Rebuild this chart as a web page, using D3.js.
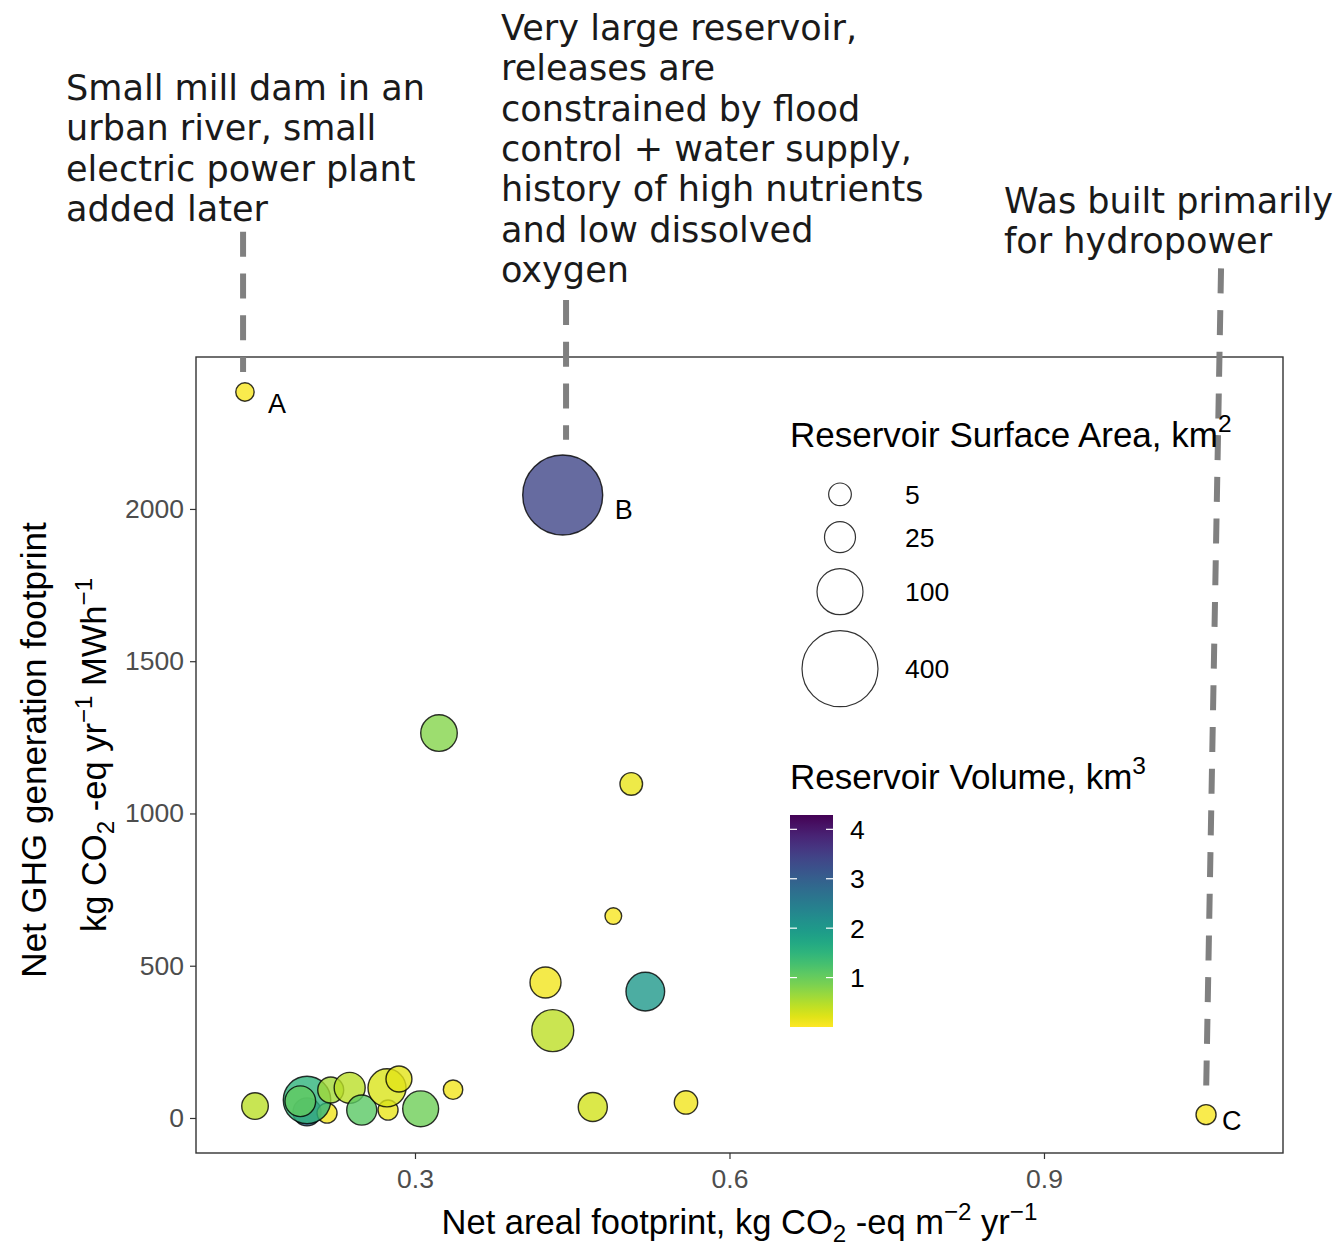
<!DOCTYPE html>
<html>
<head>
<meta charset="utf-8">
<script src="https://cdn.jsdelivr.net/npm/d3@7"></script>
<style>
    body { margin: 0; background: #fff; }
    svg { display: block; }
    .axis-title, .tick-label, .legend-text, .point-label { font-family: 'Liberation Sans', Arial, sans-serif; }
    .note { font-family: 'Century Gothic', 'URW Gothic', 'DejaVu Sans', sans-serif; fill: #1a1a1a; }
</style>
</head>
<body>
<svg id="chart" width="1340" height="1249"></svg>
<script>
/**
 * Data: one entry per reservoir, in drawing order.
 */
const arealFootprint = [0.197, 0.2161, 0.197, 0.1906, 0.1474, 0.2196, 0.2377, 0.2492, 0.2743, 0.2733, 0.2847,
    0.3054, 0.3363, 0.3229, 0.4245, 0.4314, 0.5197, 0.4696, 0.5585, 0.5063, 0.4892, 0.1378, 0.4409, 1.0546];
const ghgFootprint = [20, 16, 59, 55, 39, 92, 99, 26, 26, 99, 128,
    30, 93, 1264, 445, 287, 415, 36, 51, 1097, 663, 2384, 2046, 11];
const surfaceArea = [16, 1.8, 110, 24, 12.5, 11, 25, 22, 1.8, 54, 11,
    44, 1.3, 47, 25, 75, 57, 19, 6, 4.8, 0.05, 0.64, 455, 1.8];
const reservoirVolume = [2.9, 0.1, 1.5, 1.05, 0.45, 0.6, 0.45, 1.1, 0.15, 0.25, 0.2,
    0.95, 0.1, 0.8, 0.1, 0.43, 2.0, 0.3, 0.1, 0.15, 0.05, 0.05, 3.4, 0.05];
const pointLabels = ['', '', '', '', '', '', '', '', '', '', '',
    '', '', '', '', '', '', '', '', '', '', 'A', 'B', 'C'];

const xTicks = [0.3, 0.6, 0.9];
const yTicks = [0, 500, 1000, 1500, 2000];
const sizeBreaks = [5, 25, 100, 400];
const colorBreaks = [1, 2, 3, 4];
const volumeRange = [0, 4.29];

// Annotation leaders, in data units (start above, end near the point)
const leaderX1 = [0.136, 0.4441, 1.0689];
const leaderY1 = [2910, 2686, 2790];
const leaderX2 = [0.136, 0.4441, 1.0546];
const leaderY2 = [2450, 2227, 75];

const noteLines = [
    ['Small mill dam in an', 'urban river, small', 'electric power plant', 'added later'],
    ['Very large reservoir,', 'releases are', 'constrained by flood', 'control + water supply,',
        'history of high nutrients', 'and low dissolved', 'oxygen'],
    ['Was built primarily', 'for hydropower']
];

/**
 * Visual configs.
 */
const panel = { left: 196, right: 1283, top: 357, bottom: 1153 },
    baseSize = 35,
    axisTitleSize = 34.5,
    tickSize = 26.5,
    tickLen = 6,
    notePos = [{ x: 66, y: 100 }, { x: 501, y: 40 }, { x: 1004, y: 213 }],
    noteStep = 40.3,
    labelNudge = { A: [23, 12], B: [52, 15], C: [16, 6] };

const svg = d3.select('#chart');

/**
 * Scales.
 */
const xScale = d3.scaleLinear().domain([0.0911, 1.128]).range([panel.left, panel.right]),
    yScale = d3.scaleLinear().domain([-115, 2499]).range([panel.bottom, panel.top]),
    rScale = d3.scalePow().exponent(0.5).domain([0, 400]).range([8, 38]),
    colorScale = d3.scaleSequential(d3.interpolateViridis).domain([volumeRange[1], volumeRange[0]]);

const points = arealFootprint.map((x, i) => ({
    x: x, y: ghgFootprint[i], area: surfaceArea[i], volume: reservoirVolume[i], label: pointLabels[i]
}));

/**
 * Panel border and axes.
 */
svg.append('rect')
    .attr('x', panel.left).attr('y', panel.top)
    .attr('width', panel.right - panel.left).attr('height', panel.bottom - panel.top)
    .attr('fill', 'none').attr('stroke', '#333').attr('stroke-width', 1.4);

const xAxis = svg.append('g')
    .attr('transform', 'translate(0,' + panel.bottom + ')')
    .call(d3.axisBottom(xScale).tickValues(xTicks).tickFormat(d3.format('.1f'))
        .tickSize(tickLen).tickPadding(10));
const yAxis = svg.append('g')
    .attr('transform', 'translate(' + panel.left + ',0)')
    .call(d3.axisLeft(yScale).tickValues(yTicks).tickFormat(d3.format('d'))
        .tickSize(tickLen).tickPadding(6));

[xAxis, yAxis].forEach(axis => {
    axis.select('.domain').remove();
    axis.selectAll('.tick line').attr('stroke', '#333').attr('stroke-width', 1.2);
    axis.selectAll('.tick text')
        .attr('class', 'tick-label')
        .attr('fill', '#4d4d4d')
        .style('font-size', tickSize + 'px')
        .style('font-family', "'Liberation Sans', Arial, sans-serif");
});

/**
 * Axis titles, with sub/superscripts.
 */
function richText(sel, parts, size) {
    parts.forEach(p => {
        const t = sel.append('tspan').text(p.t);
        if (p.sub) t.attr('dy', size * 0.22).style('font-size', size * 0.7 + 'px');
        else if (p.sup) t.attr('dy', -size * 0.42).style('font-size', size * 0.7 + 'px');
        if (p.back) t.attr('dy', p.back * size);
    });
}

const xTitle = svg.append('text')
    .attr('class', 'axis-title')
    .attr('x', (panel.left + panel.right) / 2).attr('y', 1234)
    .attr('text-anchor', 'middle').style('font-size', axisTitleSize + 'px');
richText(xTitle, [
    { t: 'Net areal footprint, kg CO' }, { t: '2', sub: true }, { t: ' -eq m', back: -0.22 },
    { t: '\u22122', sup: true }, { t: ' yr', back: 0.42 }, { t: '\u22121', sup: true }
], axisTitleSize);

svg.append('text')
    .attr('class', 'axis-title')
    .attr('transform', 'translate(46,' + 750 + ') rotate(-90)')
    .attr('text-anchor', 'middle').style('font-size', baseSize + 'px')
    .text('Net GHG generation footprint');

const yTitle2 = svg.append('text')
    .attr('class', 'axis-title')
    .attr('transform', 'translate(106,' + 755 + ') rotate(-90)')
    .attr('text-anchor', 'middle').style('font-size', axisTitleSize + 'px');
richText(yTitle2, [
    { t: 'kg CO' }, { t: '2', sub: true }, { t: ' -eq yr', back: -0.22 }, { t: '\u22121', sup: true },
    { t: ' MWh', back: 0.42 }, { t: '\u22121', sup: true }
], axisTitleSize);

/**
 * Annotation leaders and notes.
 */
svg.append('g').selectAll('line')
    .data(leaderX1)
    .join('line')
    .attr('x1', (d, i) => xScale(d)).attr('y1', (d, i) => yScale(leaderY1[i]))
    .attr('x2', (d, i) => xScale(leaderX2[i])).attr('y2', (d, i) => yScale(leaderY2[i]))
    .attr('stroke', '#808080').attr('stroke-width', 6)
    .attr('stroke-dasharray', '25,16.7');

const noteGroups = svg.append('g').selectAll('text')
    .data(noteLines)
    .join('text')
    .attr('class', 'note')
    .style('font-size', '100px');

// Fit the note font to the measured width of the widest line
const probe = noteGroups.filter((d, i) => i === 1).append('tspan').text(noteLines[1][3]);
const noteSize = 100 * 411 / probe.node().getComputedTextLength();
probe.remove();

noteGroups.style('font-size', noteSize + 'px')
    .each(function(lines, i) {
        d3.select(this).selectAll('tspan')
            .data(lines)
            .join('tspan')
            .attr('x', notePos[i].x)
            .attr('y', (d, j) => notePos[i].y + j * noteStep)
            .text(d => d);
    });

/**
 * Points.
 */
svg.append('g').selectAll('circle')
    .data(points)
    .join('circle')
    .attr('cx', d => xScale(d.x))
    .attr('cy', d => yScale(d.y))
    .attr('r', d => rScale(d.area))
    .attr('fill', d => colorScale(d.volume))
    .attr('fill-opacity', 0.8)
    .attr('stroke', '#000')
    .attr('stroke-opacity', 0.8)
    .attr('stroke-width', 1.4);

svg.append('g').selectAll('text')
    .data(points.filter(d => d.label))
    .join('text')
    .attr('class', 'point-label')
    .attr('x', d => xScale(d.x) + labelNudge[d.label][0])
    .attr('y', d => yScale(d.y) + labelNudge[d.label][1] + 9)
    .style('font-size', '27px')
    .attr('fill', '#000')
    .text(d => d.label);

/**
 * Size legend.
 */
const sizeLegend = svg.append('g').attr('transform', 'translate(790,0)');
const titleSize = sizeLegend.append('text')
    .attr('class', 'legend-text')
    .attr('y', 447).style('font-size', baseSize + 'px');
richText(titleSize, [{ t: 'Reservoir Surface Area, km' }, { t: '2', sup: true }], baseSize);

let keyTop = 475;
const sizeKeys = sizeBreaks.map(v => {
    const r = rScale(v), h = 2 * r + 16, cy = keyTop + h / 2;
    keyTop += h;
    return { v: v, r: r, cy: cy };
});

sizeLegend.selectAll('circle')
    .data(sizeKeys)
    .join('circle')
    .attr('cx', 50).attr('cy', d => d.cy).attr('r', d => d.r)
    .attr('fill', 'none').attr('stroke', '#333').attr('stroke-width', 1.2);

sizeLegend.selectAll('.key-label')
    .data(sizeKeys)
    .join('text')
    .attr('class', 'legend-text key-label')
    .attr('x', 115).attr('y', d => d.cy)
    .attr('dy', '0.36em')
    .style('font-size', tickSize + 'px')
    .text(d => d.v);

/**
 * Colour bar legend.
 */
const bar = { x: 790, y: 815, w: 43, h: 212 };
const colorLegend = svg.append('g');
const titleColor = colorLegend.append('text')
    .attr('class', 'legend-text')
    .attr('x', 790).attr('y', 789).style('font-size', baseSize + 'px');
richText(titleColor, [{ t: 'Reservoir Volume, km' }, { t: '3', sup: true }], baseSize);

const grad = svg.append('defs').append('linearGradient')
    .attr('id', 'vol-grad').attr('x1', 0).attr('x2', 0).attr('y1', 1).attr('y2', 0);
grad.selectAll('stop')
    .data(d3.range(0, 1.0001, 0.05))
    .join('stop')
    .attr('offset', d => d)
    .attr('stop-color', d => colorScale(volumeRange[0] + d * (volumeRange[1] - volumeRange[0])));

const barScale = d3.scaleLinear().domain(volumeRange).range([bar.y + bar.h, bar.y]);

colorLegend.append('rect')
    .attr('x', bar.x).attr('y', bar.y).attr('width', bar.w).attr('height', bar.h)
    .attr('fill', 'url(#vol-grad)');

colorBreaks.forEach(v => {
    [bar.x, bar.x + bar.w - 7].forEach(x0 => {
        colorLegend.append('line')
            .attr('x1', x0).attr('x2', x0 + 7)
            .attr('y1', barScale(v)).attr('y2', barScale(v))
            .attr('stroke', '#fff').attr('stroke-width', 1.2);
    });
});

colorLegend.selectAll('.bar-label')
    .data(colorBreaks)
    .join('text')
    .attr('class', 'legend-text bar-label')
    .attr('x', bar.x + bar.w + 17).attr('y', d => barScale(d))
    .attr('dy', '0.36em')
    .style('font-size', tickSize + 'px')
    .text(d => d);
</script>
</body>
</html>
